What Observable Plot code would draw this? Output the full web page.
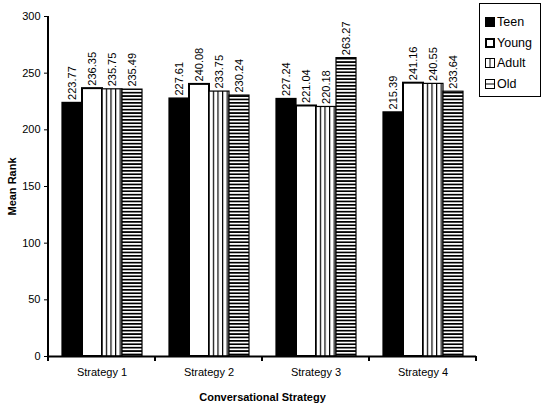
<!DOCTYPE html>
<html><head><meta charset="utf-8">
<script src="https://cdn.jsdelivr.net/npm/d3@7"></script>
<script src="https://cdn.jsdelivr.net/npm/@observablehq/plot@0.6"></script>
<style>
body{margin:0;background:#fff;font-family:"Liberation Sans",Arial,sans-serif}
#wrap{position:relative;width:544px;height:411px}
#legend{position:absolute;left:479px;top:3px;width:62px;height:94px;border:1px solid #000;background:#fff;box-sizing:border-box;padding-top:8px}
.li{display:flex;align-items:center;height:20.5px;font-size:12.5px;padding-left:5px}
.li svg{margin-right:2px}
</style>
</head><body><div id="wrap"></div>
<script>
const strategies = ["Strategy 1","Strategy 2","Strategy 3","Strategy 4"];
const groups = ["Teen","Young","Adult","Old"];
const teen  = [223.77, 227.61, 227.24, 215.39];
const young = [236.35, 240.08, 221.04, 241.16];
const adult = [235.75, 233.75, 220.18, 240.55];
const old   = [235.49, 230.24, 263.27, 233.64];
const yTicks = [0, 50, 100, 150, 200, 250, 300];
const groupFills = ["#000", "#fff", "url(#vstripe)", "url(#hstripe)"];

const series = {Teen: teen, Young: young, Adult: adult, Old: old};
const rows = [];
strategies.forEach((s, i) => groups.forEach(g => rows.push({strategy: s, group: g, value: series[g][i]})));

const plot = Plot.plot({
  width: 544, height: 411,
  marginLeft: 48, marginRight: 68, marginTop: 16, marginBottom: 55,
  style: {fontFamily: "'Liberation Sans', Arial, sans-serif", fontSize: "11px", color: "#000", background: "#fff"},
  fx: {domain: strategies, paddingInner: 0, paddingOuter: 0, label: null},
  x: {domain: groups, paddingInner: 0, paddingOuter: 0.64, axis: null},
  y: {domain: [0, 300], label: null},
  color: {domain: groups, range: groupFills},
  marks: [
    Plot.axisY({ticks: yTicks, tickSize: 4, tickPadding: 4, label: null, fontSize: 11}),
    Plot.axisY({ticks: [], label: "Mean Rank", labelAnchor: "center", labelArrow: "none", labelOffset: 40, fontWeight: "bold", fontSize: 11}),
    Plot.axisFx({anchor: "bottom", tickSize: 0, tickPadding: 12, label: null, fontSize: 11}),
    Plot.axisFx({anchor: "bottom", ticks: [], label: "Conversational Strategy", labelAnchor: "center", labelArrow: "none", labelOffset: 44, fontWeight: "bold", fontSize: 11}),
    Plot.barY(rows, {fx: "strategy", x: "group", y: "value", fill: "group", stroke: "#000",
      strokeWidth: d => d.group === "Young" ? 2 : 1.2}),
    Plot.ruleY([0], {stroke: "#000", strokeWidth: 2}),
    Plot.text(rows, {fx: "strategy", x: "group", y: "value", text: d => d.value.toFixed(2).replace(/0$/, ""),
      rotate: -90, textAnchor: "start", dy: -3, fontSize: 11, fill: "#000"})
  ]
});

const svg = d3.select(plot);
const defs = svg.insert("defs", ":first-child");
const pv = defs.append("pattern").attr("id", "vstripe").attr("patternUnits", "userSpaceOnUse").attr("width", 4.6).attr("height", 10);
pv.append("rect").attr("width", 4.6).attr("height", 10).attr("fill", "#fff");
pv.append("rect").attr("x", 0).attr("width", 1.2).attr("height", 10).attr("fill", "#000");
const ph = defs.append("pattern").attr("id", "hstripe").attr("patternUnits", "userSpaceOnUse").attr("width", 10).attr("height", 3.4);
ph.append("rect").attr("width", 10).attr("height", 3.4).attr("fill", "#fff");
ph.append("rect").attr("y", 0).attr("width", 10).attr("height", 1.7).attr("fill", "#000");

// axis lines and facet boundary ticks drawn from the plot's scales
const fx = plot.scale("fx"), y = plot.scale("y");
const left = fx.apply(strategies[0]);
const step = fx.bandwidth;
const y0 = y.apply(0), y1 = y.apply(300);
const ax = svg.append("g").attr("stroke", "#000");
ax.append("line").attr("x1", left).attr("x2", left).attr("y1", y1).attr("y2", y0 + 1).attr("stroke-width", 2);
d3.range(strategies.length + 1).forEach(i => {
  const xx = left + i * step;
  ax.append("line").attr("x1", xx).attr("x2", xx).attr("y1", y0).attr("y2", y0 + 5).attr("stroke-width", 2);
});

const wrap = document.getElementById("wrap");
wrap.appendChild(plot);

const legend = document.createElement("div");
legend.id = "legend";
const swatch = {
  Teen: '<rect x="0.5" y="0.5" width="9" height="9" fill="#000" stroke="#000"/>',
  Young: '<rect x="1" y="1" width="8" height="8" fill="#fff" stroke="#000" stroke-width="2"/>',
  Adult: '<rect x="0.5" y="0.5" width="9" height="9" fill="#fff" stroke="#000"/><line x1="5" x2="5" y1="0.5" y2="9.5" stroke="#000"/>',
  Old: '<rect x="0.5" y="0.5" width="9" height="9" fill="#fff" stroke="#000"/><line y1="5" y2="5" x1="0.5" x2="9.5" stroke="#000"/>'
};
groups.forEach(g => {
  const d = document.createElement("div");
  d.className = "li";
  d.innerHTML = `<svg width="10" height="10">${swatch[g]}</svg><span>${g}</span>`;
  legend.appendChild(d);
});
wrap.appendChild(legend);
</script>
</body></html>
